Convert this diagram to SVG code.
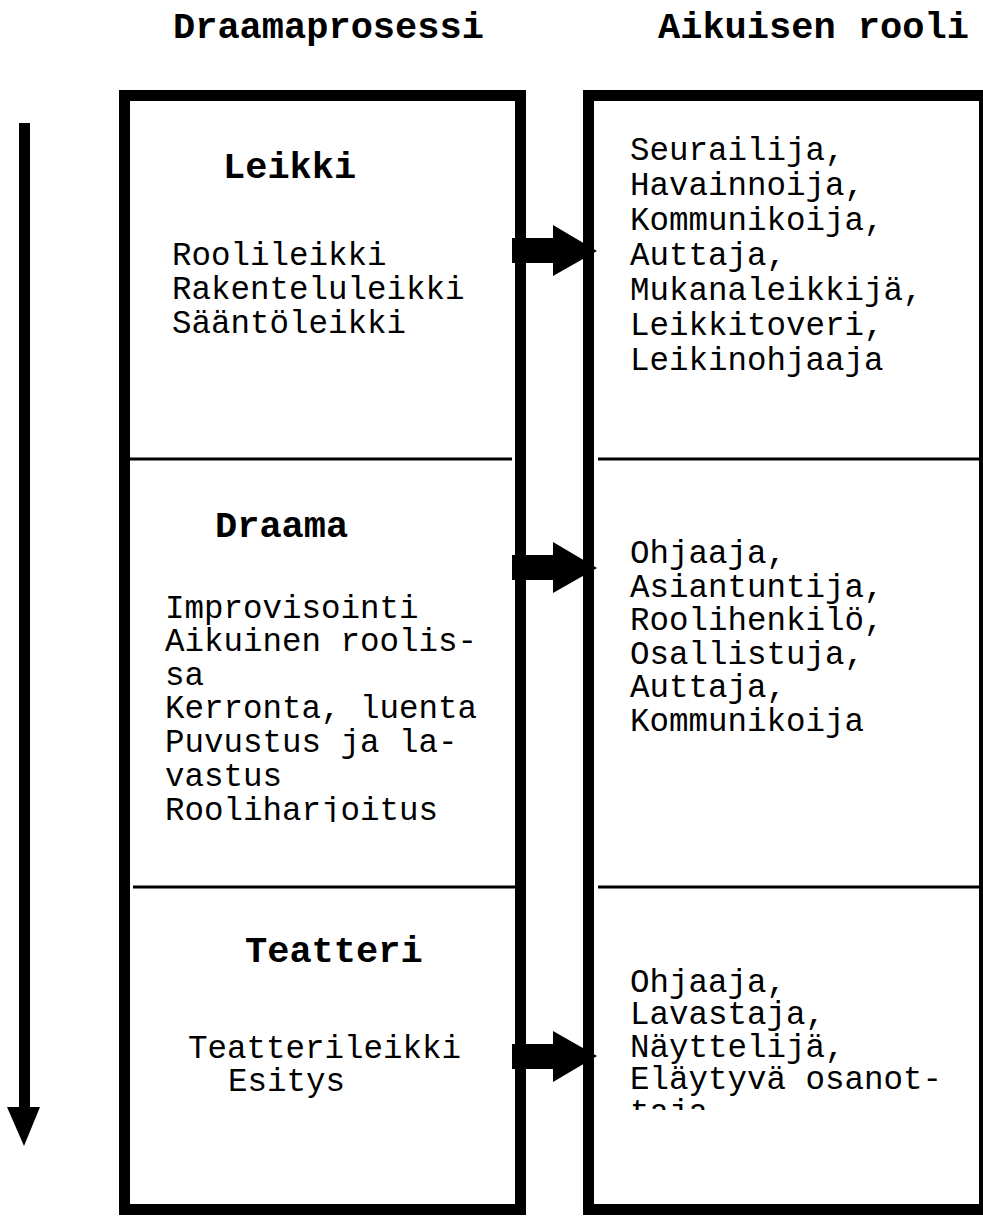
<svg xmlns="http://www.w3.org/2000/svg" width="983" height="1216" viewBox="0 0 983 1216">
<style>
text{font-family:"Courier New","Liberation Mono",monospace;fill:#000}
.h{font-size:37px;font-weight:bold}
.b{font-size:32.5px}
.frame{fill:none;stroke:#000;stroke-width:11}
.div{stroke:#000;stroke-width:3}
.arr{fill:#000}
</style>
<defs>
<clipPath id="clipDraama"><rect x="130" y="470" width="385" height="352"/></clipPath>
<clipPath id="clipTeatteri"><rect x="595" y="890" width="380" height="220"/></clipPath>
</defs>
<rect width="983" height="1216" fill="#fff"/>
<g id="titles">
<text class="h" x="173" y="38">Draamaprosessi</text>
<text class="h" x="658" y="38">Aikuisen rooli</text>
</g>
<g id="process-column">
<rect class="frame" x="124.5" y="95.5" width="396" height="1114"/>
<line class="div" x1="129" y1="459" x2="512" y2="459"/>
<line class="div" x1="133" y1="887" x2="516" y2="887"/>
</g>
<g id="role-column">
<rect class="frame" x="588.5" y="95.5" width="396" height="1114"/>
<line class="div" x1="598" y1="459" x2="980" y2="459"/>
<line class="div" x1="598" y1="887" x2="980" y2="887"/>
</g>
<g id="leikki">
<text class="h" x="223" y="178">Leikki</text>
<text class="b" x="172" y="265">Roolileikki</text>
<text class="b" x="172" y="299">Rakenteluleikki</text>
<text class="b" x="172" y="333">Sääntöleikki</text>
</g>
<g id="leikki-roles">
<text class="b" x="630" y="160">Seurailija,</text>
<text class="b" x="630" y="195">Havainnoija,</text>
<text class="b" x="630" y="230">Kommunikoija,</text>
<text class="b" x="630" y="265">Auttaja,</text>
<text class="b" x="630" y="300">Mukanaleikkijä,</text>
<text class="b" x="630" y="335">Leikkitoveri,</text>
<text class="b" x="630" y="370">Leikinohjaaja</text>
</g>
<g id="draama">
<text class="h" x="215" y="537">Draama</text>
<g clip-path="url(#clipDraama)">
<text class="b" x="165" y="618">Improvisointi</text>
<text class="b" x="165" y="651">Aikuinen roolis-</text>
<text class="b" x="165" y="685">sa</text>
<text class="b" x="165" y="718">Kerronta, luenta</text>
<text class="b" x="165" y="752">Puvustus ja la-</text>
<text class="b" x="165" y="786">vastus</text>
<text class="b" x="165" y="820">Rooliharjoitus</text>
</g>
</g>
<g id="draama-roles">
<text class="b" x="630" y="563">Ohjaaja,</text>
<text class="b" x="630" y="597">Asiantuntija,</text>
<text class="b" x="630" y="630">Roolihenkilö,</text>
<text class="b" x="630" y="664">Osallistuja,</text>
<text class="b" x="630" y="697">Auttaja,</text>
<text class="b" x="630" y="731">Kommunikoija</text>
</g>
<g id="teatteri">
<text class="h" x="245" y="962">Teatteri</text>
<text class="b" x="188" y="1058">Teatterileikki</text>
<text class="b" x="228" y="1091">Esitys</text>
</g>
<g id="teatteri-roles">
<g clip-path="url(#clipTeatteri)">
<text class="b" x="630" y="992">Ohjaaja,</text>
<text class="b" x="630" y="1024">Lavastaja,</text>
<text class="b" x="630" y="1057">Näyttelijä,</text>
<text class="b" x="630" y="1089">Eläytyvä osanot-</text>
<text class="b" x="630" y="1122">taja</text>
</g>
</g>
<g id="connectors">
<path class="arr" d="M512,238 H553 V225 L597,251 L553,276 V263 H512 Z"/>
<path class="arr" d="M512,555 H553 V542 L597,568 L553,593 V580 H512 Z"/>
<path class="arr" d="M512,1044 H553 V1031 L597,1056 L553,1082 V1069 H512 Z"/>
<path class="arr" d="M19,123 H30 V1107 H40 L24,1146 L7,1107 H19 Z"/>
</g>
</svg>
